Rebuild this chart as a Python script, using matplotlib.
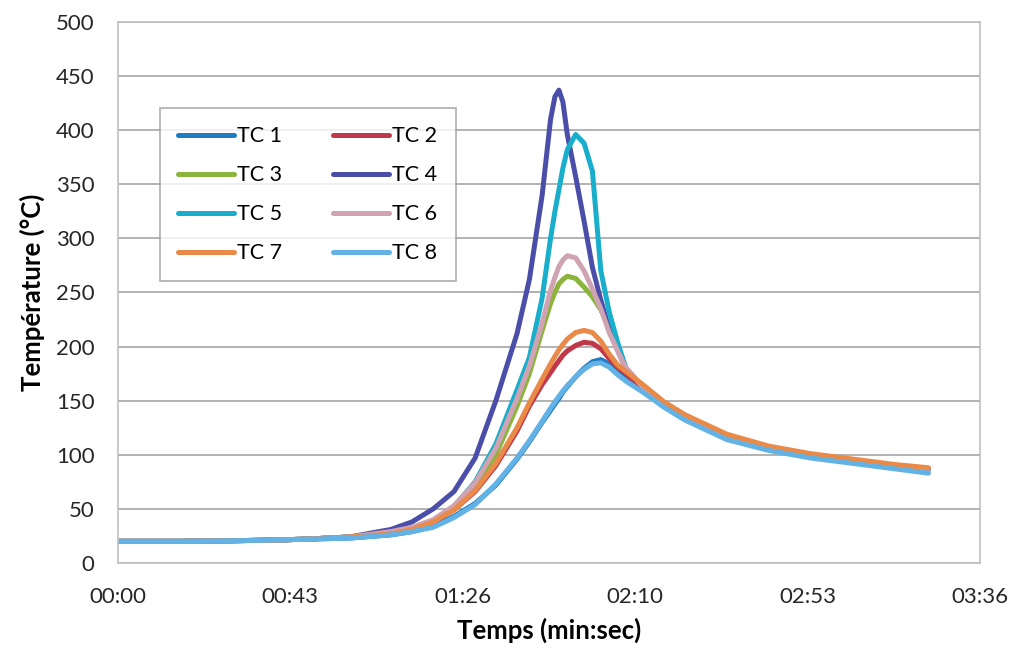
import numpy as np
import matplotlib.pyplot as plt

plt.rcParams['font.family'] = ['Lato', 'DejaVu Sans']

# time in seconds
t = [0, 16, 37, 47, 58, 68.4, 73.7, 79, 84.2, 89.5, 94.7, 100, 103.1, 106.3, 108.4, 109.5, 110.5,
     111.5, 112.6, 114.7, 116.8, 118.9, 121, 123.1, 125.2, 127.3, 131.5, 136.8, 142.1, 152.6,
     163.1, 173.6, 184.2, 194.7, 203.1]

tc1 = [20, 20, 21, 22, 23, 26, 29, 34, 43, 55, 72, 96, 112, 130, 141, 147, 152, 158, 163,
       172, 180, 186, 188, 184, 177, 171, 160, 146, 134, 116, 106, 99, 94, 89, 86]
tc2 = [20, 20, 21, 22, 24, 27, 31, 38, 49, 66, 90, 122, 145, 165, 176, 182, 187, 192, 196,
       201, 204, 203, 198, 189, 181, 175, 162, 147, 135, 117, 107, 100, 95, 90, 87]
tc3 = [20, 20, 21, 22, 24, 28, 32, 39, 51, 70, 100, 145, 175, 215, 240, 250, 258, 262, 265,
       263, 255, 246, 234, 218, 197, 180, 163, 147, 135, 117, 107, 100, 95, 90, 87]
tc4 = [20, 20, 21, 22, 24, 31, 38, 50, 66, 97, 150, 212, 262, 340, 410, 431, 437, 426, 396,
       357, 316, 273, 243, 216, 197, 179, 163, 147, 135, 117, 107, 100, 95, 90, 87]
tc5 = [20, 20, 21, 22, 24, 28, 32, 39, 52, 75, 110, 160, 190, 245, 300, 325, 345, 365, 382,
       396, 388, 362, 270, 232, 204, 180, 163, 147, 135, 117, 107, 100, 95, 90, 87]
tc6 = [20, 20, 21, 22, 24, 29, 33, 40, 53, 74, 106, 152, 182, 222, 252, 264, 274, 280, 284,
       282, 270, 253, 235, 213, 196, 180, 163, 147, 135, 117, 107, 100, 95, 90, 87]
tc7 = [20, 20, 21, 22, 24, 27, 31, 38, 49, 67, 92, 125, 148, 170, 184, 191, 197, 202, 207,
       213, 215, 213, 205, 193, 183, 177, 165, 149, 137, 119, 108, 101, 96, 91, 88]
tc8 = [20, 20, 21, 22, 23, 26, 29, 33, 42, 54, 73, 97, 113, 131, 143, 149, 154, 159, 164,
       172, 179, 184, 185, 181, 174, 168, 158, 144, 132, 114, 104, 97, 92, 87, 83]

series = [tc1, tc2, tc3, tc4, tc5, tc6, tc7, tc8]
names = ['TC 1', 'TC 2', 'TC 3', 'TC 4', 'TC 5', 'TC 6', 'TC 7', 'TC 8']
colors = ['#1f7cc2', '#c0384a', '#8ab43c', '#4a4ea8',
          '#19aecb', '#d0a3b2', '#ea8a48', '#62b2e6']

xticks_lab = ['00:00', '00:43', '01:26', '02:10', '02:53', '03:36']

fig = plt.figure(figsize=(10.16, 6.58), dpi=100)
ax = fig.add_axes([0.1161, 0.1444, 0.8484, 0.8222])

lines = []
for y, n, c in zip(series, names, colors):
    l, = ax.plot(t, y, color=c, lw=3.6, label=n,
                 solid_capstyle='round', solid_joinstyle='round')
    lines.append(l)

ax.set_xlim(0, 216)
ax.set_ylim(0, 500)
ax.set_xticks([i * 43.2 for i in range(len(xticks_lab))])
ax.set_xticklabels(xticks_lab)
ax.set_yticks(np.arange(0, 501, 50))
ax.tick_params(length=0, labelsize=16, colors='#262626', pad=17)
ax.tick_params(axis='x', pad=17)
ax.yaxis.grid(True, color='#a6a6a6', lw=1.2)
ax.set_axisbelow(True)
for s in ax.spines.values():
    s.set_color('#c0c0c0')
    s.set_linewidth(1.2)

ax.set_xlabel('Temps (min:sec)', fontsize=18.5, fontweight='bold', labelpad=8)
ax.set_ylabel('Température (°C)', fontsize=18.5, fontweight='bold', labelpad=8)

# legend filled row by row like the original
order = [0, 2, 4, 6, 1, 3, 5, 7]
leg = ax.legend([lines[i] for i in order], [names[i] for i in order],
                ncol=2, loc='upper left', bbox_to_anchor=(0.0487, 0.841),
                borderaxespad=0, fontsize=15.5, frameon=True, fancybox=False,
                handlelength=2.6, handletextpad=0.15, columnspacing=2.35,
                labelspacing=0.88, borderpad=0.85)
leg.get_frame().set_edgecolor('#999999')
leg.get_frame().set_linewidth(1.2)

fig.savefig('out.png', dpi=100)
